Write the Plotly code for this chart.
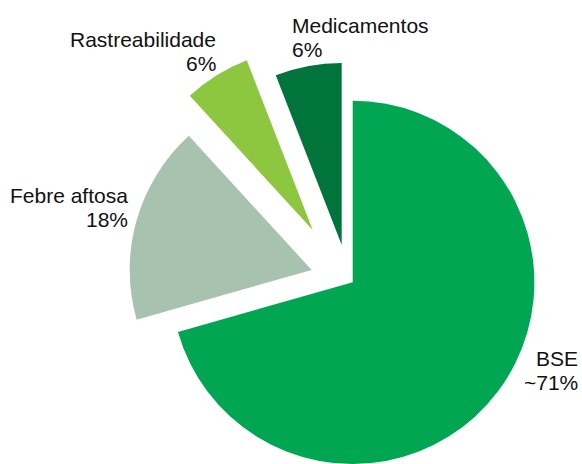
import plotly.graph_objects as go

# ---- data ----
labels = ["BSE", "Febre aftosa", "Rastreabilidade", "Medicamentos"]
values = [70.6, 17.6, 5.9, 5.9]
pct_text = ["~71%", "18%", "6%", "6%"]
colors = ["#00A651", "#A8C2B0", "#8DC63F", "#00743A"]

# ---- layout / style constants (pixels) ----
W, H = 582, 464
CX, CY = 352.7, 282.7      # centre of the un-exploded pie (px from top-left)
R = 182                    # radius in px
# explode offsets of each slice's vertex (dx, dy) in px, dy downward
offsets = [(0, 0), (-41, -12.7), (-40, -52.7), (-11, -37.7)]

def clamp(v):
    return max(0.0, min(1.0, v))

fig = go.Figure()
for i, lab in enumerate(labels):
    dx, dy = offsets[i]
    cx, cy = CX + dx, CY + dy
    xd = [clamp((cx - R) / W), clamp((cx + R) / W)]
    yd = [clamp((H - cy - R) / H), clamp((H - cy + R) / H)]
    cols = [c if j == i else "rgba(0,0,0,0)" for j, c in enumerate(colors)]
    fig.add_trace(go.Pie(
        labels=labels, values=values, sort=False, direction="clockwise",
        rotation=0, textinfo="none", hoverinfo="label+percent",
        marker=dict(colors=cols, line=dict(width=0)),
        domain=dict(x=xd, y=yd), showlegend=False, name=lab,
    ))

# label placements: (anchor x px, xanchor, line-1 centre y px, line-2 centre y px)
label_pos = [
    (580, "right", 358, 382),
    (130, "right", 195, 219),
    (218, "right", 39, 63),
    (290, "left", 25.5, 50),
]
font = dict(family="Liberation Sans, Arial, sans-serif", size=21, color="#111111")
annotations = []
for i, lab in enumerate(labels):
    x, xa, y1, y2 = label_pos[i]
    for txt, yy in ((lab, y1), (pct_text[i], y2)):
        annotations.append(dict(
            text=txt, x=x / W, y=1 - yy / H, xref="paper", yref="paper",
            xanchor=xa, yanchor="middle", showarrow=False, font=font,
        ))

fig.update_layout(
    width=W, height=H, margin=dict(l=0, r=0, t=0, b=0),
    paper_bgcolor="white", plot_bgcolor="white",
    annotations=annotations, showlegend=False,
)
fig.write_html("out.html")
